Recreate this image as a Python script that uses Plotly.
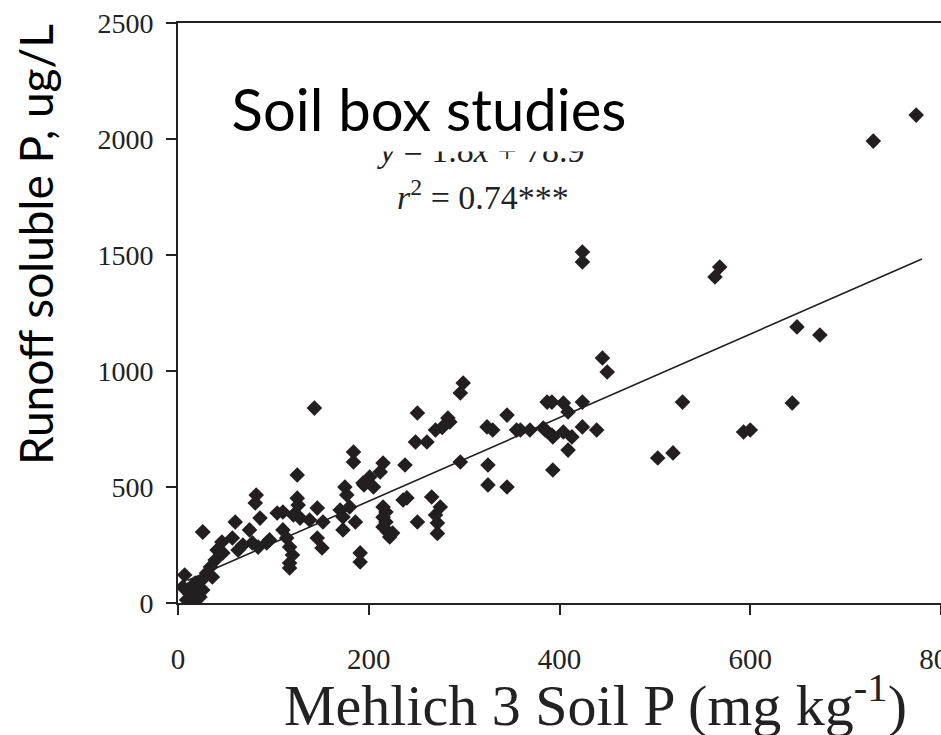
import plotly.graph_objects as go

# ---- data ----
soil_p = [5, 7, 9, 10, 12, 13, 15, 18, 18, 20, 23, 25, 26, 26, 30, 34, 36, 39, 41, 46, 47, 26,
          57, 60, 63, 68, 75, 78, 81, 82, 84, 86, 93, 96,
          104, 110, 110, 114, 117, 117, 117, 120, 121, 125, 125, 126, 128, 138, 143, 146, 146, 151, 152,
          170, 173, 173, 175, 177, 180, 184, 184, 186, 191, 191, 194, 195, 201, 205,
          212, 215, 215, 218, 215, 218, 215, 220, 222, 225, 236, 238,
          240, 249, 251, 251, 261, 266, 270, 277, 270, 272, 272, 275, 283, 285, 296, 299, 296,
          324, 330, 325, 325, 345, 345, 355, 359, 369, 383, 385, 387, 392, 392, 393, 393, 404, 404,
          409, 409, 413, 424, 424, 424, 424, 439, 445, 450,
          503, 519, 529, 563, 568, 593, 600, 644, 649, 673, 729, 774]
runoff_p = [69, 121, 13, 56, 40, 26, 8, 13, 86, 45, 26, 99, 56, 306, 129, 155, 112, 185, 228, 263, 216, 306,
            280, 349, 228, 250, 315, 259, 431, 465, 241, 366, 259, 272,
            388, 392, 315, 280, 241, 172, 151, 207, 379, 552, 452, 422, 366, 358, 840, 409, 280, 237, 349,
            401, 371, 315, 500, 466, 414, 651, 608, 349, 216, 177, 517, 509, 543, 500,
            565, 603, 414, 392, 370, 349, 328, 306, 285, 302, 444, 595,
            453, 694, 819, 349, 694, 457, 746, 757, 379, 345, 300, 414, 797, 780, 905, 948, 608,
            759, 746, 595, 509, 810, 500, 746, 746, 746, 754, 746, 866, 866, 724, 716, 573, 862, 737,
            823, 659, 716, 866, 759, 1513, 1470, 746, 1056, 996,
            625, 647, 866, 1405, 1448, 737, 746, 862, 1190, 1155, 1991, 2103]

slope = 1.8
intercept = 78.9
fit_x = [10, 780]
fit_y = [slope * v + intercept for v in fit_x]

x_ticks = [0, 200, 400, 600, 800]
y_ticks = [0, 500, 1000, 1500, 2000, 2500]

# ---- layout geometry ----
W, H = 941, 735
L, T, R, B = 178, 23, 0, 132
PW, PH = W - L - R, H - T - B


def px(xp):
    return (xp - L) / PW


def py(yp):
    return (T + PH - yp) / PH


serif = "Liberation Serif, Times New Roman, serif"
sans = "Lato, Open Sans, sans-serif"
ink = "#231f20"

fig = go.Figure()
fig.add_trace(go.Scatter(x=fit_x, y=fit_y, mode="lines",
                         line=dict(color=ink, width=1.6), showlegend=False))
fig.add_trace(go.Scatter(x=soil_p, y=runoff_p, mode="markers",
                         marker=dict(symbol="diamond", size=12, color=ink,
                                     line=dict(width=0)),
                         showlegend=False))

fig.update_layout(
    width=W, height=H,
    margin=dict(l=L, r=R, t=T, b=B, autoexpand=False),
    paper_bgcolor="white", plot_bgcolor="white",
    showlegend=False,
    xaxis=dict(range=[0, 800], tickvals=x_ticks, ticktext=[str(v) for v in x_ticks],
               ticks="outside", ticklen=10, tickwidth=1.5, tickcolor="#222",
               showline=True, linewidth=2, linecolor="#222", mirror=True,
               showgrid=False, zeroline=False, automargin=False,
               tickfont=dict(family=serif, size=29, color="#222"),
               ticklabelstandoff=19, ticklabeloverflow="allow"),
    yaxis=dict(range=[0, 2500], tickvals=y_ticks, ticktext=[str(v) for v in y_ticks],
               ticks="outside", ticklen=10, tickwidth=1.5, tickcolor="#222",
               showline=True, linewidth=2, linecolor="#222", mirror=False,
               showgrid=False, zeroline=False, automargin=False,
               tickfont=dict(family=serif, size=28, color="#222"),
               ticklabelstandoff=7, ticklabeloverflow="allow"),
)

ann = []
# equation (partly hidden behind the label box)
ann.append(dict(x=px(481), y=py(150), xref="paper", yref="paper", showarrow=False,
                text="<i>y</i> = 1.8<i>x</i> + 78.9",
                font=dict(family=serif, size=34, color="#222"),
                xanchor="center", yanchor="middle"))
ann.append(dict(x=px(483), y=py(195), xref="paper", yref="paper", showarrow=False,
                text="<i>r</i><sup>2</sup> = 0.74***",
                font=dict(family=serif, size=34, color="#222"),
                xanchor="center", yanchor="middle"))
# overlaid slide label with white box
ann.append(dict(x=px(429), y=py(108), xref="paper", yref="paper", showarrow=False,
                text="Soil box studies",
                font=dict(family=sans, size=58, color="black"),
                bgcolor="white", borderpad=0, width=430, height=86,
                xanchor="center", yanchor="middle", valign="middle"))
# y-axis title
ann.append(dict(x=px(35), y=py(245), xref="paper", yref="paper", showarrow=False,
                text="Runoff soluble P, ug/L", textangle=-90,
                font=dict(family=sans, size=46, color="black"),
                xanchor="center", yanchor="middle"))
# x-axis title
ann.append(dict(x=px(595), y=py(701), xref="paper", yref="paper", showarrow=False,
                text="Mehlich 3 Soil P (mg kg<sup>-1</sup>)",
                font=dict(family=serif, size=58, color="#222"),
                xanchor="center", yanchor="middle"))
fig.update_layout(annotations=ann)

fig.write_html("out.html")
